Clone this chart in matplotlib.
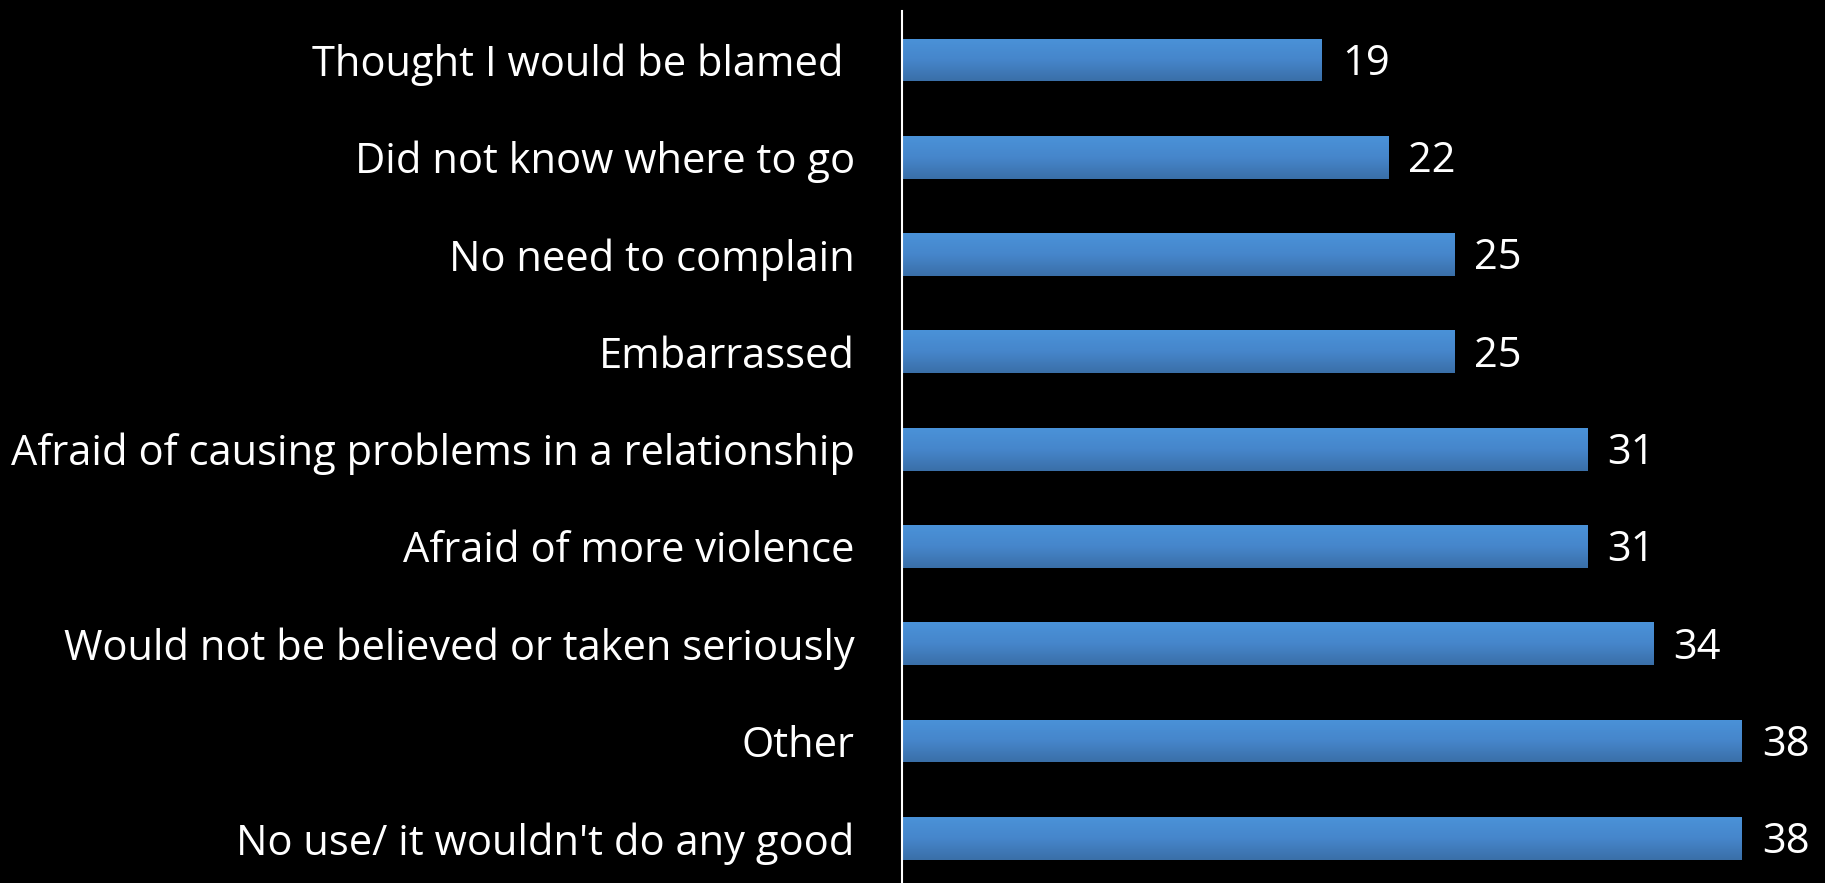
import matplotlib
matplotlib.use("Agg")
import matplotlib.pyplot as plt
import numpy as np
from matplotlib.colors import LinearSegmentedColormap

categories = [
    "Thought I would be blamed ",
    "Did not know where to go",
    "No need to complain",
    "Embarrassed",
    "Afraid of causing problems in a relationship",
    "Afraid of more violence",
    "Would not be believed or taken seriously",
    "Other",
    "No use/ it wouldn't do any good",
]
values = [19, 22, 25, 25, 31, 31, 34, 38, 38]

W, H = 1825, 883
fig = plt.figure(figsize=(W / 100, H / 100), dpi=100, facecolor="black")
ax_left = 902 / W
ax_right = 1825 / W
ax = fig.add_axes([ax_left, -4 / H, ax_right - ax_left, 875.7 / H])
ax.set_facecolor("black")

n = len(categories)
ypos = np.arange(n)
bars = ax.barh(ypos, values, height=0.44, color="#4484c8", edgecolor="none", zorder=2)

# vertical gradient inside each bar
cmap = LinearSegmentedColormap.from_list("barfade", ["#4a92d8", "#4686cb", "#3a6fa8"])
grad = np.linspace(0, 1, 64).reshape(-1, 1)
for b in bars:
    x0, y0 = b.get_x(), b.get_y()
    w, h = b.get_width(), b.get_height()
    im = ax.imshow(grad, cmap=cmap, aspect="auto", extent=(x0, x0 + w, y0 + h, y0),
                   origin="upper", zorder=3, interpolation="bilinear")
    im.set_clip_path(b)

ax.set_xlim(0, 923 / 22.1)
ax.set_ylim(n - 0.5, -0.5)

for y, v in zip(ypos, values):
    ax.text(v + 0.9, y + 0.04, f"{v}", va="center", ha="left", color="white",
            fontsize=30, family="Open Sans")

ax.set_yticks(ypos)
ax.set_yticklabels(categories, color="white", fontsize=30, family="Open Sans")
for lbl in ax.get_yticklabels():
    lbl.set_y(lbl.get_position()[1])
ax.tick_params(axis="y", length=0, pad=34)
ax.set_xticks([])
for s in ["top", "right", "bottom"]:
    ax.spines[s].set_visible(False)
ax.spines["left"].set_color("white")
ax.spines["left"].set_linewidth(1.5)
ax.spines["left"].set_zorder(4)

fig.savefig("out.png", dpi=100, facecolor="black")
